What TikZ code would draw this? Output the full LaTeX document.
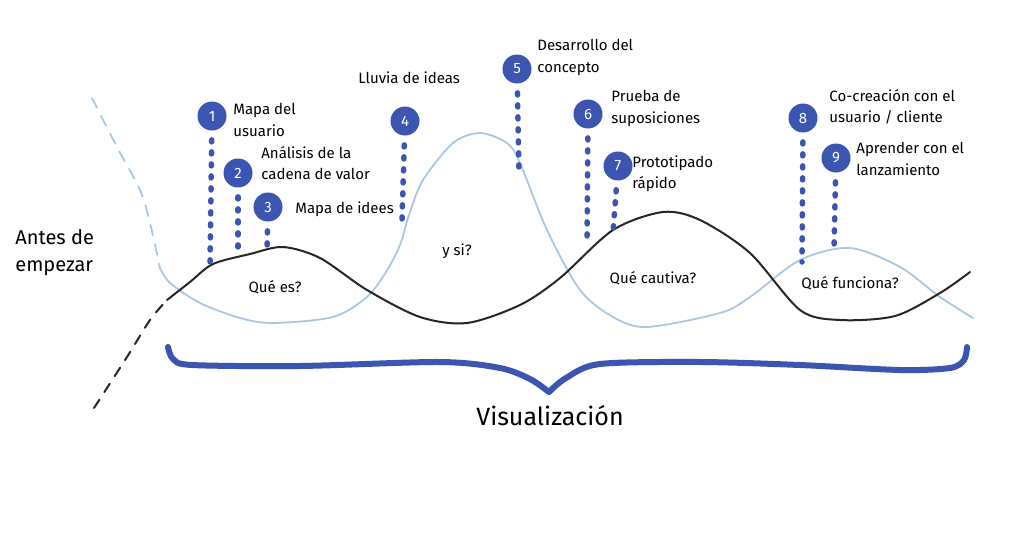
\documentclass[tikz,border=0pt]{standalone}
\usepackage{fontspec}
\setmainfont{Fira Sans}
\usetikzlibrary{positioning}

\definecolor{pinblue}{HTML}{3B55B0}
\definecolor{paleblue}{HTML}{A9C6E3}

\begin{document}
\begin{tikzpicture}[x=1pt, y=-1pt, thick,
    pin/.style = {circle, fill=pinblue, text=white, minimum size=29pt, inner sep=0pt, font=\fontsize{15}{15}\selectfont},
    stem/.style = {pinblue, line width=5.5pt, line cap=round, dash pattern=on 2pt off 10pt, shorten <=9pt},
    lbl/.style = {align=left, inner sep=0pt, font=\fontsize{15}{21.5}\selectfont},
    big/.style = {align=left, inner sep=0pt, font=\fontsize{20}{27}\selectfont},
    wave/.style = {black!85, line width=2pt, line cap=round},
    pale/.style = {paleblue, line width=1.8pt, line cap=round},
    brace/.style = {pinblue, line width=6pt, line cap=round, line join=round}]

    \useasboundingbox (0,0) rectangle (1024,557);

    % light blue wave
    \draw[pale, dash pattern=on 11pt off 9pt] plot[smooth] coordinates {(92,98) (117,147) (140,190) (150,223) (160,268)};
    \draw[pale] plot[smooth] coordinates {(160,268) (170,283) (200,303) (240,318) (273,323) (333,317) (367,297) (386,272) (400,245) (409,215) (423,180) (453,143) (480,133) (507,143) (520,163) (547,230) (580,290) (613,317) (647,327) (720,313) (750,297) (800,260) (850,248) (900,267) (940,297) (973,318)};

    % black wave
    \draw[wave, dash pattern=on 10pt off 9pt] plot[smooth] coordinates {(94,408) (127,357) (150,320) (167,300)};
    \draw[wave] plot[smooth] coordinates {(167,300) (190,282) (213,264) (250,254) (283,247) (320,258) (367,290) (420,317) (467,323) (520,305) (560,278) (613,230) (663,212) (700,220) (750,253) (800,310) (840,320) (895,316) (940,293) (970,272)};

    % brace
    \draw[brace] plot[smooth] coordinates {(168,347) (173,359) (192,365) (300,366) (440,362) (500,368) (530,379) (549,392)};
    \draw[brace] plot[smooth] coordinates {(549,392) (566,378) (600,364) (700,362) (800,365) (900,370) (950,368) (964,360) (967,347)};

    % pins
    \node[pin] (p1) at (212,116) {1};
    \node[pin] (p2) at (238,173) {2};
    \node[pin] (p3) at (268,207) {3};
    \node[pin] (p4) at (405,121) {4};
    \node[pin] (p5) at (517,69) {5};
    \node[pin] (p6) at (588,114) {6};
    \node[pin] (p7) at (618,166) {7};
    \node[pin] (p8) at (803,118) {8};
    \node[pin] (p9) at (836,158) {9};

    \coordinate (e1) at (210,265);
    \coordinate (e2) at (238,255);
    \coordinate (e3) at (267,250);
    \coordinate (e4) at (402,220);
    \coordinate (e5) at (519,172);
    \coordinate (e6) at (587,243);
    \coordinate (e7) at (613,232);
    \coordinate (e8) at (802,262);
    \coordinate (e9) at (834,250);

    \draw[stem] (p1) -- (e1);
    \draw[stem] (p2) -- (e2);
    \draw[stem] (p3) -- (e3);
    \draw[stem] (p4) -- (e4);
    \draw[stem] (p5) -- (e5);
    \draw[stem] (p6) -- (e6);
    \draw[stem] (p7) -- (e7);
    \draw[stem] (p8) -- (e8);
    \draw[stem] (p9) -- (e9);

    % labels
    \node[lbl, anchor=north west] (l1) at (233,103) {Mapa del\\usuario};
    \node[lbl, anchor=north west] (l2) at (261,146) {Análisis de la\\cadena de valor};
    \node[lbl, anchor=west] (l3) at (295,209) {Mapa de idees};
    \node[lbl, anchor=west] (l4) at (358,78) {Lluvia de ideas};
    \node[lbl, anchor=north west] (l5) at (537,39) {Desarrollo del\\concepto};
    \node[lbl, anchor=north west] (l6) at (611,90) {Prueba de\\suposiciones};
    \node[lbl, anchor=north west] (l7) at (632,155) {Prototipado\\rápido};
    \node[lbl, anchor=north west] (l8) at (829,89) {Co-creación con el\\usuario / cliente};
    \node[lbl, anchor=north west] (l9) at (856,142) {Aprender con el\\lanzamiento};

    \node[lbl] (q1) at (275,287) {Qué es?};
    \node[lbl] (q2) at (457,251) {y si?};
    \node[lbl] (q3) at (653,278) {Qué cautiva?};
    \node[lbl] (q4) at (850,283) {Qué funciona?};

    \node[big, anchor=north west] (start) at (15,229) {Antes de\\empezar};
    \node[big, font=\fontsize{25}{27}\selectfont] (vis) at (550,416) {Visualización};

\end{tikzpicture}
\end{document}
